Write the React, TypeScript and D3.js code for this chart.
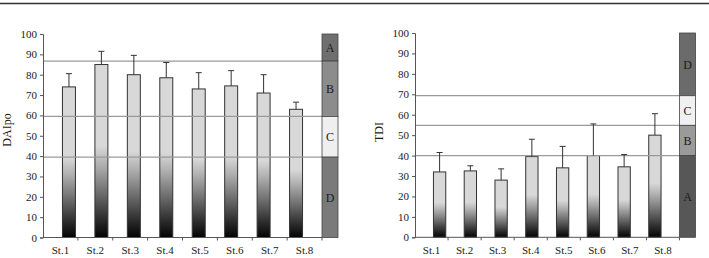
import { useEffect, useRef } from 'react';
import * as d3 from 'd3';

// Estaciones de muestreo
const estaciones = ['St.1', 'St.2', 'St.3', 'St.4', 'St.5', 'St.6', 'St.7', 'St.8'];

// DAIpo: media y extremo superior de la barra de error
const daipoMedia = [74, 85, 80, 78.5, 73, 74.5, 71, 63];
const daipoError = [80.5, 91.5, 89.5, 86, 81, 82, 80, 66.5];
// Límites de clase y franjas de calidad
const daipoLimites = [86.7, 59.5, 39.5];
const daipoClases = [
  { clase: 'A', desde: 86.7, hasta: 100, color: '#6f6f6f' },
  { clase: 'B', desde: 59.5, hasta: 86.7, color: '#8c8c8c' },
  { clase: 'C', desde: 39.5, hasta: 59.5, color: '#efefef' },
  { clase: 'D', desde: 0, hasta: 39.5, color: '#7a7a7a' },
];

// TDI
const tdiMedia = [32, 32.5, 28, 39.5, 34, 40, 34.5, 50];
const tdiError = [41.5, 35, 33.5, 48, 44.5, 55.5, 40.5, 60.5];
const tdiLimites = [69.3, 54.8, 40];
const tdiClases = [
  { clase: 'D', desde: 69.3, hasta: 100, color: '#6b6b6b' },
  { clase: 'C', desde: 54.8, hasta: 69.3, color: '#f0f0f0' },
  { clase: 'B', desde: 40, hasta: 54.8, color: '#9a9a9a' },
  { clase: 'A', desde: 0, hasta: 40, color: '#575757' },
];

const ticksY = [0, 10, 20, 30, 40, 50, 60, 70, 80, 90, 100];
const fuente = "'Liberation Serif', serif";

function dibujaPanel(svg, cfg) {
  const { x0, x1, yBase, yTop, etiqueta, etqX, etqY, medias, errores, limites, clases, gradId } = cfg;
  const g = svg.append('g');
  const x = d3.scaleBand().domain(estaciones).range([x0, x1]).padding(0.6);
  const xPaso = d3.scaleBand().domain(estaciones).range([x0, x1]).padding(0);
  const y = d3.scaleLinear().domain([0, 100]).range([yBase, yTop]);

  // Barras con degradado en la mitad inferior
  estaciones.forEach((st, i) => {
    g.append('rect')
      .attr('x', x(st))
      .attr('y', y(medias[i]))
      .attr('width', x.bandwidth())
      .attr('height', y(0) - y(medias[i]))
      .attr('fill', `url(#${gradId})`)
      .attr('stroke', '#333')
      .attr('stroke-width', 1);
  });

  // Líneas de límite de clase
  limites.forEach(v => {
    g.append('line')
      .attr('x1', x0)
      .attr('x2', x1)
      .attr('y1', y(v))
      .attr('y2', y(v))
      .attr('stroke', '#9a9a9a')
      .attr('stroke-width', 1.2);
  });

  // Barras de error
  estaciones.forEach((st, i) => {
    const cx = x(st) + x.bandwidth() / 2;
    g.append('line')
      .attr('x1', cx).attr('x2', cx)
      .attr('y1', y(medias[i])).attr('y2', y(errores[i]))
      .attr('stroke', '#333').attr('stroke-width', 1);
    g.append('line')
      .attr('x1', cx - 3).attr('x2', cx + 3)
      .attr('y1', y(errores[i])).attr('y2', y(errores[i]))
      .attr('stroke', '#333').attr('stroke-width', 1);
  });

  // Columna de clases
  const anchoClase = 16;
  clases.forEach(c => {
    g.append('rect')
      .attr('x', x1)
      .attr('y', y(c.hasta))
      .attr('width', anchoClase)
      .attr('height', y(c.desde) - y(c.hasta))
      .attr('fill', c.color)
      .attr('stroke', '#444')
      .attr('stroke-width', 0.8);
    g.append('text')
      .attr('x', x1 + anchoClase / 2)
      .attr('y', (y(c.desde) + y(c.hasta)) / 2)
      .attr('dy', '0.35em')
      .attr('text-anchor', 'middle')
      .attr('font-size', 12)
      .attr('fill', '#1a1a1a')
      .text(c.clase);
  });

  // Eje Y
  const ejeY = g.append('g')
    .attr('transform', `translate(${x0},0)`)
    .call(d3.axisLeft(y).tickValues(ticksY).tickSize(3).tickPadding(3));
  ejeY.selectAll('path, line').attr('stroke', '#555');
  ejeY.selectAll('text').attr('font-family', fuente).attr('font-size', 11).attr('fill', '#1a1a1a');

  // Eje X con marcas entre estaciones
  g.append('line')
    .attr('x1', x0).attr('x2', x1)
    .attr('y1', yBase).attr('y2', yBase)
    .attr('stroke', '#555');
  estaciones.forEach(st => {
    const xt = xPaso(st) + xPaso.bandwidth();
    g.append('line')
      .attr('x1', xt).attr('x2', xt)
      .attr('y1', yBase).attr('y2', yBase + 3)
      .attr('stroke', '#555');
    g.append('text')
      .attr('x', xPaso(st) + xPaso.bandwidth() / 2)
      .attr('y', yBase + 16.5)
      .attr('text-anchor', 'middle')
      .attr('font-size', 11)
      .attr('fill', '#1a1a1a')
      .text(st);
  });

  // Título del eje
  g.append('text')
    .attr('transform', `translate(${etqX},${etqY}) rotate(-90)`)
    .attr('text-anchor', 'middle')
    .attr('font-size', 12)
    .attr('fill', '#1a1a1a')
    .text(etiqueta);
}

export default function App() {
  const ref = useRef(null);

  useEffect(() => {
    const svg = d3.select(ref.current);
    svg.selectAll('*').remove();
    svg.attr('font-family', fuente);

    const defs = svg.append('defs');
    const grad = defs.append('linearGradient')
      .attr('id', 'degradado')
      .attr('x1', 0).attr('y1', 0).attr('x2', 0).attr('y2', 1);
    [
      [0, '#d8d8d8'], [0.47, '#d8d8d8'], [0.58, '#b0b0b0'],
      [0.75, '#6a6a6a'], [0.9, '#2a2a2a'], [1, '#030303'],
    ].forEach(([o, c]) => grad.append('stop').attr('offset', o).attr('stop-color', c));

    // Línea superior de la página
    svg.append('line')
      .attr('x1', 0).attr('x2', 709)
      .attr('y1', 3.5).attr('y2', 3.5)
      .attr('stroke', '#333').attr('stroke-width', 1.5);

    dibujaPanel(svg, {
      x0: 43, x1: 322, yBase: 237.5, yTop: 34,
      etiqueta: 'DAIpo', etqX: 11, etqY: 130,
      medias: daipoMedia, errores: daipoError, limites: daipoLimites, clases: daipoClases,
      gradId: 'degradado',
    });
    dibujaPanel(svg, {
      x0: 415, x1: 679.5, yBase: 237.3, yTop: 33,
      etiqueta: 'TDI', etqX: 383, etqY: 132,
      medias: tdiMedia, errores: tdiError, limites: tdiLimites, clases: tdiClases,
      gradId: 'degradado',
    });
  }, []);

  return (
    <svg
      ref={ref}
      width={709}
      height={258}
      style={{ position: 'absolute', left: 0, top: 0, background: '#fff' }}
    />
  );
}
